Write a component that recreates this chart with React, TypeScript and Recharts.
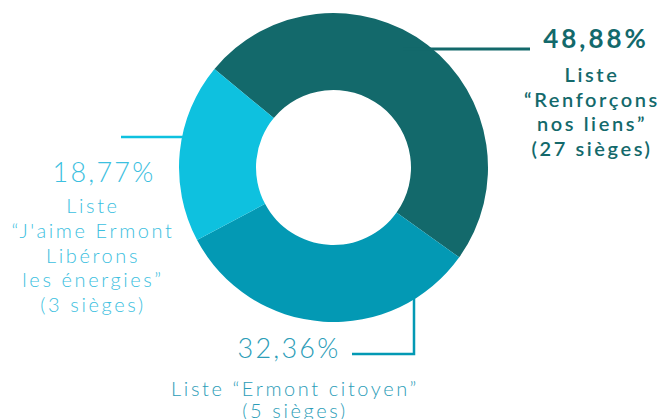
import { PieChart, Pie, Cell } from 'recharts';

// résultats des municipales, du plus grand au plus petit
const parties = ['Renforçons nos liens', 'Ermont citoyen', "J'aime Ermont Libérons les énergies"];
const shares = [48.88, 32.36, 18.77];
const seats = [27, 5, 3];
const colors = ['#13696b', '#0399b4', '#0ec1df'];
const textColors = ['#13696b', '#2c9db8', '#3cc0e0'];

// lignes de texte sous chaque pourcentage
const labelLines = [
  ['Liste', '“Renforçons', 'nos liens”', `(${seats[0]} sièges)`],
  ['Liste “Ermont citoyen”', `(${seats[1]} sièges)`],
  ['Liste', "“J'aime Ermont", 'Libérons', 'les énergies”', `(${seats[2]} sièges)`],
];

const data = parties.map((name, i) => ({ name, value: shares[i] }));

const fmt = (v: number) => v.toFixed(2).replace('.', ',') + '%';

// positions des étiquettes (coordonnées de la page)
const layout = [
  { x: 592, pctX: 596, pctY: 48, y0: 82, step: 24.7, path: 'M403,49H530', sw: 3, bold: true, pctSize: 26, pctLs: 3 },
  { x: 295, pctX: 289, pctY: 358, y0: 396, step: 22, path: 'M414,293V354H352', sw: 2.5, bold: false, pctSize: 27, pctLs: 2.2 },
  { x: 93, pctX: 104, pctY: 182, y0: 213, step: 24.8, path: 'M121,137H183', sw: 2.5, bold: false, pctSize: 27, pctLs: 2.2 },
];

const renderLabel = (props: any) => {
  const i = props.index;
  const l = layout[i];
  const c = textColors[i];
  return (
    <g key={`lbl-${i}`}>
      <path d={l.path} stroke={colors[i]} strokeWidth={l.sw} fill="none" />
      <text
        x={l.pctX}
        y={l.pctY}
        textAnchor="middle"
        fill={c}
        fontSize={l.pctSize}
        fontWeight={l.bold ? 700 : 300}
        letterSpacing={l.pctLs}
      >
        {fmt(shares[i])}
      </text>
      {labelLines[i].map((t, k) => (
        <text
          key={k}
          x={l.x}
          y={l.y0 + k * l.step}
          textAnchor="middle"
          fill={c}
          fontSize={20}
          fontWeight={l.bold ? 600 : 300}
          letterSpacing={2.6}
        >
          {t}
        </text>
      ))}
    </g>
  );
};

export default function App() {
  return (
    <div style={{ position: 'absolute', left: 0, top: 0, width: 663, height: 419, background: '#fff', fontFamily: 'Lato, sans-serif' }}>
      <PieChart width={663} height={419} margin={{ top: 0, right: 0, bottom: 0, left: 0 }}>
        <Pie
          data={data}
          dataKey="value"
          cx={333.5}
          cy={167.5}
          innerRadius={77.5}
          outerRadius={154.5}
          startAngle={140.4}
          endAngle={-219.6}
          stroke="none"
          label={renderLabel}
          labelLine={false}
          isAnimationActive={false}
        >
          {data.map((d, i) => (
            <Cell key={d.name} fill={colors[i]} />
          ))}
        </Pie>
      </PieChart>
    </div>
  );
}
